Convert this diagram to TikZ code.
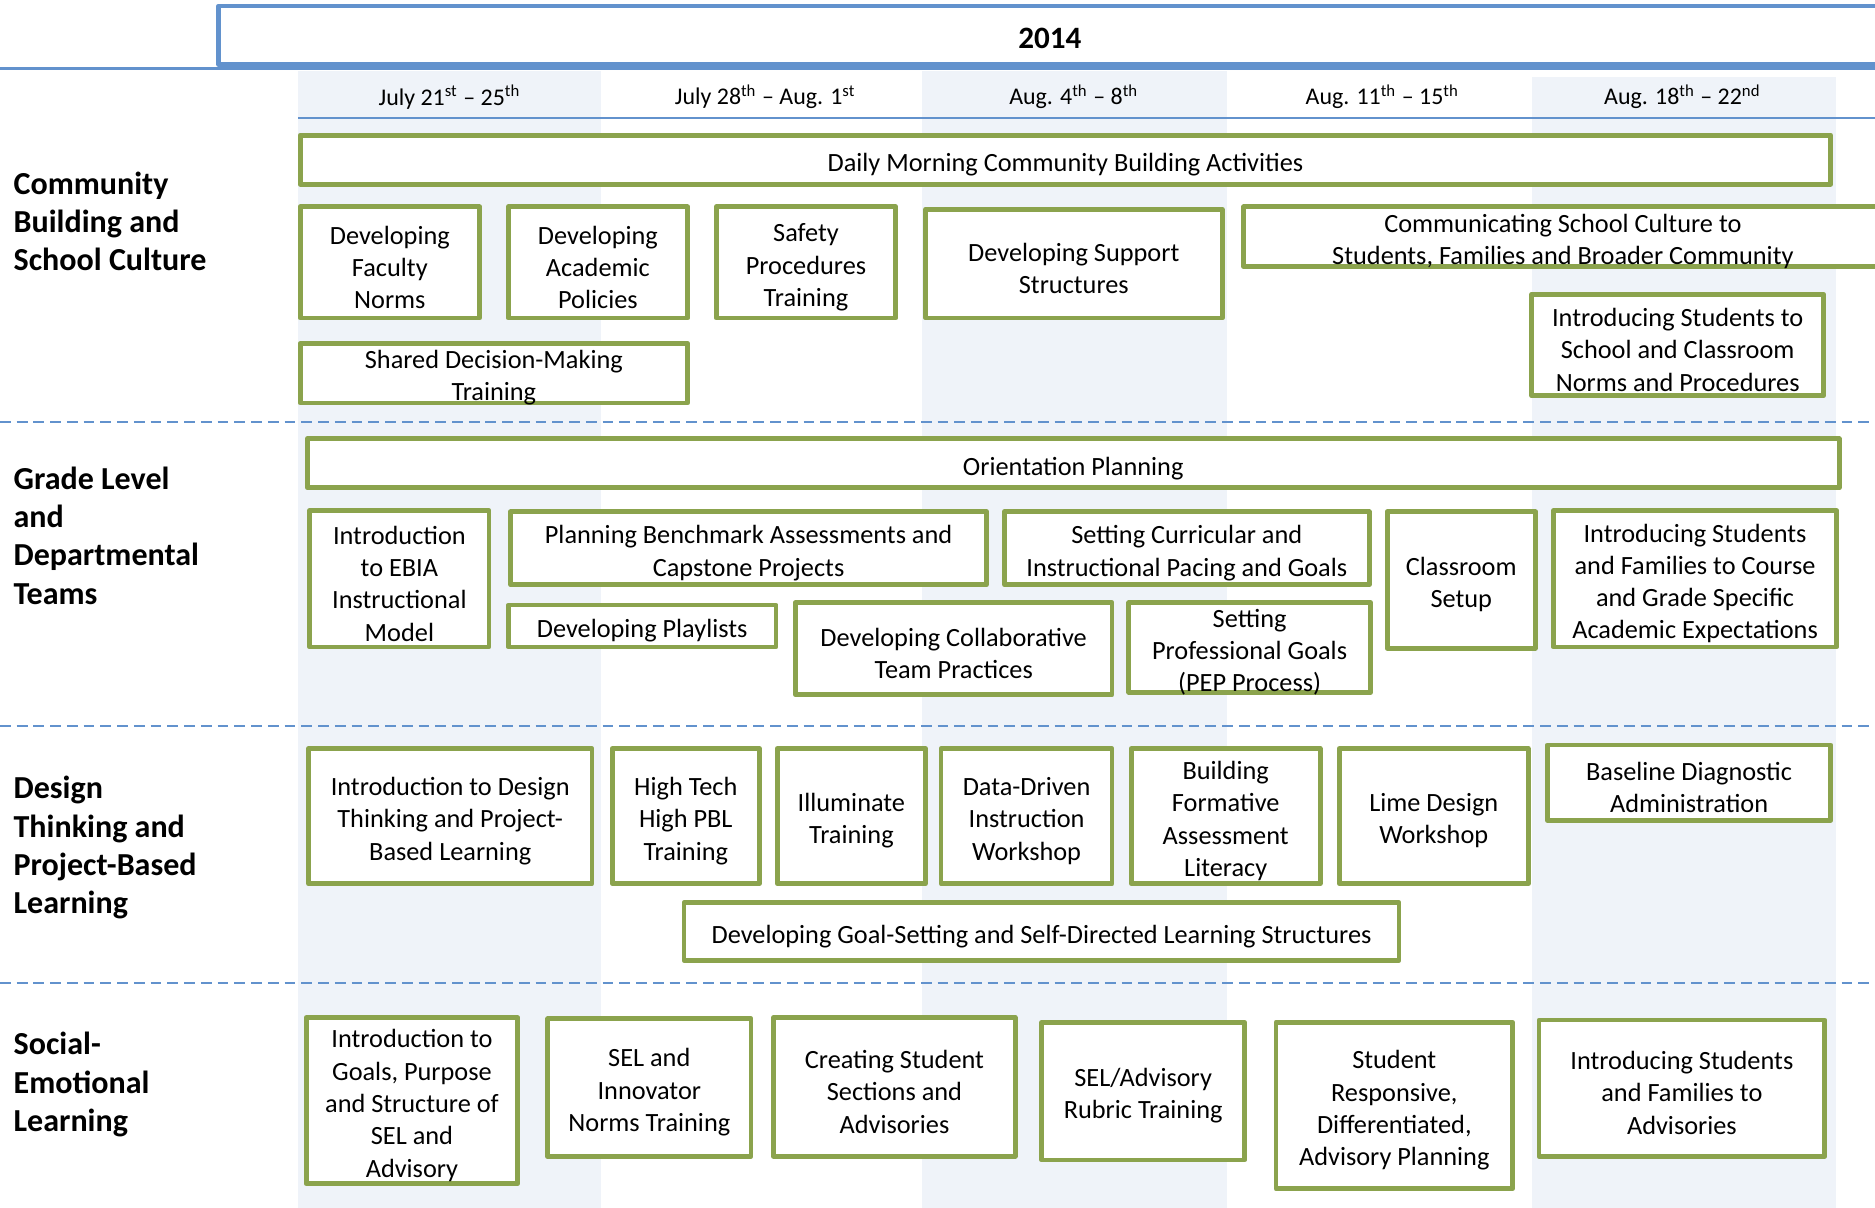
\documentclass[tikz,border=0pt]{standalone}
\usepackage{fontspec}
\setmainfont{Carlito}
\definecolor{olivebox}{RGB}{139,163,77}
\definecolor{lineblue}{RGB}{98,146,205}
\definecolor{colshade}{RGB}{239,243,249}
\tikzset{
	taskbox/.style={draw=olivebox, line width=2pt, fill=white, inner sep=0pt},
	tasktext/.style={align=center, inner sep=0pt, yshift=-2pt, font=\fontsize{11}{13.5}\selectfont},
	rowhead/.style={anchor=west, align=left, inner sep=0pt, font=\fontsize{13.4}{16}\selectfont\bfseries},
	weekhead/.style={inner sep=0pt, font=\fontsize{10}{12}\selectfont},
}
% box: name, left, top, right, bottom, text
\newcommand\task[6]{%
	\node[taskbox, minimum width={(#4-#2-4)*0.5pt}, minimum height={(#5-#3-4)*0.5pt}] (#1) at ({(#2+#4)/2},{(#3+#5)/2}) {};
	\node[tasktext] (#1-txt) at (#1.center) {#6};}
\begin{document}
\begin{tikzpicture}[x=0.5pt, y=-0.5pt, line join=round]
	\useasboundingbox (0,0) rectangle (1568,1010);
	% shaded weeks
	\foreach \xa/\xb/\ya in {249/503/59, 771/1026/59, 1281/1535/64}
		\fill[colshade] (\xa,\ya) rectangle (\xb,1012);
	% year header
	\draw[lineblue, line width=2pt] (1620,5) -- (183,5) -- (183,54) -- (1620,54);
	\node[font=\fontsize{13}{16}\selectfont\bfseries, inner sep=0pt] (year) at (878,32) {2014};
	\draw[lineblue, line width=1.2pt] (0,57.5) -- (1568,57.5);
	\foreach \xc/\wk [count=\i] in {376/{July 21\textsuperscript{st} -- 25\textsuperscript{th}},
		640/{July 28\textsuperscript{th} -- Aug. 1\textsuperscript{st}},
		898/{Aug. 4\textsuperscript{th} -- 8\textsuperscript{th}},
		1156/{Aug. 11\textsuperscript{th} -- 15\textsuperscript{th}},
		1407/{Aug. 18\textsuperscript{th} -- 22\textsuperscript{nd}}}
		\node[weekhead] (week\i) at (\xc,81) {\wk};
	\draw[lineblue, line width=1pt] (249,98.5) -- (1568,98.5);
	\foreach \yy in {353, 607, 822}
		\draw[lineblue, line width=1pt, dash pattern=on 4.5pt off 2.5pt] (0,\yy) -- (1568,\yy);
	% row headings
	\node[rowhead] (community) at (11,185) {Community\\Building and\\School Culture};
	\node[rowhead] (grade) at (11,448) {Grade Level\\and\\Departmental\\Teams};
	\node[rowhead] (design) at (11,709) {Design\\Thinking and\\Project-Based\\Learning};
	\node[rowhead] (sel) at (11,907) {Social-\\Emotional\\Learning};
	% community building and school culture
	\task{daily}{249}{111}{1533}{156}{Daily Morning Community Building Activities}
	\task{facnorms}{249}{171}{403}{268}{Developing\\Faculty\\Norms}
	\task{acadpol}{423}{171}{577}{268}{Developing\\Academic\\Policies}
	\task{safety}{597}{171}{751}{268}{Safety\\Procedures\\Training}
	\task{support}{772}{173}{1024}{268}{Developing Support\\Structures}
	\task{commun}{1038}{171}{1576}{225}{Communicating School Culture to\\Students, Families and Broader Community}
	\task{intronorms}{1279}{244}{1527}{333}{Introducing Students to\\School and Classroom\\Norms and Procedures}
	\task{shared}{249}{285}{577}{339}{Shared Decision-Making\\Training}
	% grade level and departmental teams
	\task{orient}{255}{365}{1540}{410}{Orientation Planning}
	\task{ebia}{257}{425}{411}{543}{Introduction\\to EBIA\\Instructional\\Model}
	\task{bench}{425}{426}{827}{491}{Planning Benchmark Assessments and\\Capstone Projects}
	\task{pacing}{838}{426}{1147}{491}{Setting Curricular and\\Instructional Pacing and Goals}
	\task{setup}{1158}{426}{1286}{544}{Classroom\\Setup}
	\task{expect}{1297}{425}{1538}{543}{Introducing Students\\and Families to Course\\and Grade Specific\\Academic Expectations}
	\task{playlists}{423}{504}{651}{543}{Developing Playlists}
	\task{collab}{663}{502}{932}{583}{Developing Collaborative\\Team Practices}
	\task{pep}{942}{502}{1148}{581}{Setting\\Professional Goals\\(PEP Process)}
	% design thinking and project-based learning
	\task{dtpbl}{256}{624}{497}{741}{Introduction to Design\\Thinking and Project-\\Based Learning}
	\task{hthpbl}{510}{624}{637}{741}{High Tech\\High PBL\\Training}
	\task{illum}{648}{624}{776}{741}{Illuminate\\Training}
	\task{ddi}{785}{624}{932}{741}{Data-Driven\\Instruction\\Workshop}
	\task{formative}{944}{624}{1106}{741}{Building\\Formative\\Assessment\\Literacy}
	\task{lime}{1118}{624}{1280}{741}{Lime Design\\Workshop}
	\task{baseline}{1292}{621}{1533}{688}{Baseline Diagnostic\\Administration}
	\task{goalset}{570}{753}{1172}{805}{Developing Goal-Setting and Self-Directed Learning Structures}
	% social-emotional learning
	\task{selintro}{254}{849}{435}{992}{Introduction to\\Goals, Purpose\\and Structure of\\SEL and\\Advisory}
	\task{selnorms}{456}{850}{630}{969}{SEL and\\Innovator\\Norms Training}
	\task{sections}{645}{849}{851}{969}{Creating Student\\Sections and\\Advisories}
	\task{rubric}{869}{853}{1043}{972}{SEL/Advisory\\Rubric Training}
	\task{responsive}{1065}{853}{1267}{996}{Student\\Responsive,\\Differentiated,\\Advisory Planning}
	\task{advisories}{1285}{851}{1528}{969}{Introducing Students\\and Families to\\Advisories}
\end{tikzpicture}
\end{document}
